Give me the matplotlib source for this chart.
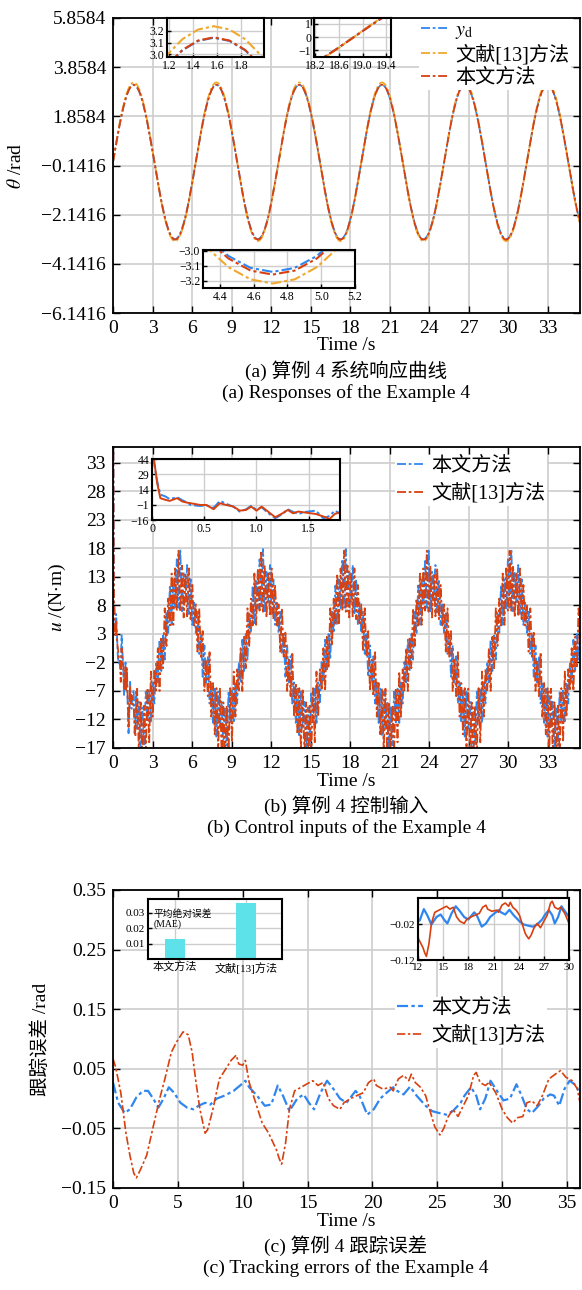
import numpy as np
import matplotlib
matplotlib.use('Agg')
import matplotlib.pyplot as plt
from matplotlib.ticker import FixedLocator, FuncFormatter

plt.rcParams['font.family'] = ['Liberation Serif', 'Noto Sans CJK SC']
plt.rcParams['mathtext.fontset'] = 'stix'
plt.rcParams['axes.unicode_minus'] = True

# ---------------- data ----------------
# (a) angle responses, one period (2*pi s) sampled every 7.5 degrees
theta_d_cycle = [0, 0.410, 0.813, 1.202, 1.571, 1.913, 2.221, 2.493, 2.721, 2.902, 3.035, 3.115,
                 3.142, 3.115, 3.035, 2.902, 2.721, 2.493, 2.221, 1.913, 1.571, 1.202, 0.813, 0.410,
                 0, -0.410, -0.813, -1.202, -1.571, -1.913, -2.221, -2.493, -2.721, -2.902, -3.035, -3.115,
                 -3.142, -3.115, -3.035, -2.902, -2.721, -2.493, -2.221, -1.913, -1.571, -1.202, -0.813, -0.410]
theta_ref_cycle = [0, 0.423, 0.839, 1.240, 1.620, 1.973, 2.291, 2.571, 2.806, 2.993, 3.130, 3.212,
                   3.240, 3.212, 3.130, 2.993, 2.806, 2.571, 2.291, 1.973, 1.620, 1.240, 0.839, 0.423,
                   0, -0.420, -0.833, -1.232, -1.610, -1.960, -2.277, -2.555, -2.789, -2.975, -3.110, -3.192,
                   -3.220, -3.192, -3.110, -2.975, -2.789, -2.555, -2.277, -1.960, -1.610, -1.232, -0.833, -0.420]
theta_ours_cycle = [0, 0.410, 0.814, 1.204, 1.573, 1.915, 2.224, 2.495, 2.724, 2.906, 3.038, 3.118,
                    3.145, 3.118, 3.038, 2.906, 2.724, 2.495, 2.224, 1.915, 1.573, 1.204, 0.814, 0.410,
                    0, -0.412, -0.818, -1.209, -1.580, -1.924, -2.234, -2.507, -2.737, -2.920, -3.052, -3.133,
                    -3.160, -3.133, -3.052, -2.920, -2.737, -2.507, -2.234, -1.924, -1.580, -1.209, -0.818, -0.412]
theta_ticks = [-6.1416, -4.1416, -2.1416, -0.1416, 1.8584, 3.8584, 5.8584]

# (b) control input: start-up transient, then one period of the chattering input
u_start_t = [0, 0.02, 0.05, 0.08, 0.13, 0.17, 0.24, 0.29, 0.33, 0.37, 0.46, 0.52, 0.59, 0.65, 0.71,
             0.78, 0.84, 0.9, 0.95, 1.0, 1.05, 1.11, 1.18, 1.25, 1.3, 1.35, 1.4, 1.47, 1.57, 1.64,
             1.7, 1.75, 1.79]
u_start_ref = [44, 43, 20, 5.5, 3.8, 2.8, 5.5, 2.2, 1.2, 0.5, -1.2, -1.2, -5.4, 0.5, -1.2, -2.8,
               -6.8, -6.1, -2.8, -6.8, -2.8, -7.7, -13.3, -9.4, -6.1, -9.4, -7.7, -8.7, -10.1, -12.5,
               -15, -10.1, -8.7]
u_start_ours = [44, 40, 22, 9, 7.1, 4.5, 6.5, 3.5, 1.5, -1.2, -2.2, -1.5, -4, 2.8, 0, -3, -7.7,
                -5.5, -2, -6, -3.5, -9, -14.4, -10, -5.4, -8, -10.1, -8, -6.8, -14.4, -12, -6.8, -9]
u_ref_cycle = [8.2, -0.1, 7.5, -1.0, 3.5, -7.0, -1.5, -7.9, -0.2, -11.5, -5.6, -14.6, -6.5, -17.5,
               -6.6, -17.9, -9.0, -18.5, -9.6, -18.0, -6.5, -16.0, -3.6, -11.5, -3.2, -6.9, 0.5, -7.0,
               2.5, -3.0, 7.5, 0.9, 9.2, 4.5, 13.6, 4.6, 14.5, 7.1, 17.6, 6.9, 15.0, 5.9, 13.6, 6.1,
               14.5, 5.6, 11.6, 4.5]
u_ours_cycle = [3.2, 6.9, -0.5, 3.0, -4.5, 1.0, -5.5, -0.9, -9.2, -5.5, -12.6, -6.6, -15.0, -7.1,
                -13.6, -8.9, -17.0, -9.9, -16.5, -7.1, -12.5, -6.6, -12.6, -5.5, -9.2, -1.9, -5.5, 2.0,
                -3.5, 3.0, -1.5, 6.9, 3.2, 11.5, 4.6, 12.6, 7.5, 16.1, 7.6, 17.9, 7.0, 13.9, 8.6, 15.1,
                6.5, 12.6, 4.6, 8.5]

# (c) tracking errors
err_ref_t = [0, 0.2, 0.6, 1.0, 1.3, 1.6, 1.8, 2.1, 2.4, 2.6, 3.1, 3.6, 4.0, 4.5, 4.9, 5.4, 5.8, 6.1,
             6.4, 6.7, 7.1, 7.3, 7.7, 8.2, 8.7, 9.1, 9.5, 9.7, 10.0, 10.2, 10.5, 11.0, 11.5, 12.0,
             12.6, 12.8, 13.0, 13.3, 13.6, 14.0, 14.5, 14.9, 15.4, 15.8, 16.2, 16.6, 17.0, 17.5,
             17.8, 18.3, 18.8, 19.3, 19.7, 20.1, 20.3, 20.8, 21.4, 21.6, 22.0, 22.4, 22.8, 23.0,
             23.3, 23.7, 24.1, 24.4, 24.8, 25.2, 25.5, 25.8, 26.2, 26.6, 27.0, 27.4, 27.8, 28.0,
             28.3, 28.7, 29.0, 29.5, 30.0, 30.4, 30.8, 31.2, 31.6, 31.9, 32.3, 32.7, 33.1, 33.6,
             34.1, 34.5, 34.9, 35.4, 35.8, 36.0]
err_ref = [0.067, 0.053, 0.010, -0.058, -0.095, -0.125, -0.133, -0.120, -0.105, -0.095,
           -0.047, 0.000, 0.033, 0.078, 0.095, 0.112, 0.107, 0.078, 0.027, -0.018,
           -0.058, -0.052, -0.018, 0.033, 0.050, 0.064, 0.073, 0.058, 0.056, 0.064,
           0.027, -0.007, -0.041, -0.058, -0.086, -0.100, -0.110, -0.075, -0.018, 0.013,
           0.019, 0.024, 0.030, 0.022, 0.027, 0.000, -0.012, -0.018, -0.007, 0.000,
           0.005, 0.010, 0.027, 0.033, 0.022, 0.016, 0.019, 0.013, 0.033, 0.039,
           0.030, 0.041, 0.027, 0.019, 0.005, -0.018, -0.047, -0.061, -0.050, -0.032,
           -0.018, -0.030, -0.012, 0.005, 0.039, 0.044, 0.027, 0.022, 0.027, 0.010,
           -0.018, -0.032, -0.041, -0.032, -0.030, -0.007, -0.004, -0.012, 0.005, 0.033,
           0.041, 0.047, 0.036, 0.030, 0.016, -0.007]
err_ours_t = [0, 0.4, 0.9, 1.3, 1.8, 2.3, 2.7, 3.1, 3.5, 3.9, 4.3, 4.7, 5.2, 5.7, 6.2, 6.6, 7.1,
              7.5, 8.0, 8.6, 9.3, 9.8, 10.2, 10.5, 11.1, 11.7, 12.2, 12.7, 13.1, 13.6, 14.2, 14.7,
              15.1, 15.5, 16.0, 16.5, 17.0, 17.5, 18.0, 18.7, 19.0, 19.6, 20.1, 20.6, 21.1, 21.6,
              21.9, 22.4, 22.9, 23.4, 24.1, 24.6, 25.1, 25.7, 26.2, 26.8, 27.1, 27.6, 28.0, 28.3,
              28.7, 29.1, 29.6, 30.1, 30.6, 31.1, 31.5, 31.9, 32.3, 32.8, 33.2, 33.7, 34.0, 34.4,
              34.8, 35.2, 35.7, 36.0]
err_ours = [0.027, -0.007, -0.024, -0.018, 0.002, 0.013, 0.013, 0.000, -0.015, 0.000,
            0.019, 0.010, -0.007, -0.015, -0.018, -0.012, -0.007, -0.010, 0.000, 0.005,
            0.013, 0.022, 0.030, 0.019, 0.005, -0.012, -0.010, 0.022, 0.005, -0.021,
            0.000, 0.007, -0.007, -0.018, 0.010, 0.030, 0.016, 0.000, -0.007, 0.013,
            0.005, -0.027, -0.018, 0.000, 0.010, 0.019, 0.013, 0.007, 0.020, 0.005,
            -0.012, -0.021, -0.024, -0.027, -0.021, -0.007, 0.005, 0.019, 0.005, -0.018,
            0.000, 0.030, 0.013, -0.003, 0.000, 0.024, 0.005, -0.018, -0.024, -0.012,
            0.000, 0.007, 0.005, -0.012, 0.016, 0.030, 0.022, 0.007]
mae_labels = ['本文方法', '文献[13]方法']
mae_values = [0.013, 0.0365]

# ---------------- styling ----------------
C_BLUE = '#2f86f0'
C_ORANGE = '#f0a82c'
C_RED = '#d8400f'
C_BAR = '#5de2ea'
GRID = '#cdcdcd'
DASHDOT = (0, (5, 1.5, 1.5, 1.5))

W, H = 582, 1290
fig = plt.figure(figsize=(W / 100, H / 100), dpi=100)


def box(x0, y0, x1, y1):
    """Pixel box (top-left origin) to a figure-fraction rectangle."""
    return [x0 / W, 1 - y1 / H, (x1 - x0) / W, (y1 - y0) / H]


def minus(fmt):
    return FuncFormatter(lambda v, p: (fmt % v).replace('-', '\u2212'))


def style(ax, fs=14, pad=5, length=5, lw=1.3):
    ax.tick_params(direction='in', top=True, right=True, labelsize=fs,
                   length=length, width=1, pad=pad)
    for s in ax.spines.values():
        s.set_linewidth(lw)
    ax.grid(True, color=GRID, lw=1.2)
    ax.set_axisbelow(True)


def legend(ax, x, y, spacing):
    lg = ax.legend(loc='upper left', bbox_to_anchor=(x, y), frameon=True,
                   facecolor='white', edgecolor='none', framealpha=1, fancybox=False,
                   fontsize=14.5, handlelength=1.3, handletextpad=0.4, labelspacing=spacing,
                   borderpad=0.1, borderaxespad=0)
    lg.set_zorder(5)
    return lg


def caption(yc, lines, xlabel='Time /s'):
    fig.text(346 / W, 1 - yc[0] / H, xlabel, ha='center', va='center', fontsize=14)
    fig.text(346 / W, 1 - yc[1] / H, lines[0], ha='center', va='center', fontsize=14)
    fig.text(346 / W, 1 - yc[2] / H, lines[1], ha='center', va='center', fontsize=14)


# ---------------- (a) responses ----------------
n1 = 272
dt1 = 2 * np.pi / len(theta_d_cycle)
t1 = np.arange(n1) * dt1
yd = np.tile(theta_d_cycle, 6)[:n1]
yref = np.tile(theta_ref_cycle, 6)[:n1]
yours = np.tile(theta_ours_cycle, 6)[:n1]

ax1 = fig.add_axes(box(113, 18, 580, 313))
style(ax1)
ax1.plot(t1, yd, color=C_BLUE, ls=DASHDOT, lw=1.3, label=r'$y_{\mathrm{d}}$')
ax1.plot(t1, yref, color=C_ORANGE, ls=DASHDOT, lw=1.3, label='文献[13]方法')
ax1.plot(t1, yours, color=C_RED, ls=DASHDOT, lw=1.3, label='本文方法')
ax1.set_xlim(0, 35.45)
ax1.set_ylim(theta_ticks[0], theta_ticks[-1])
ax1.set_xticks(np.arange(0, 34, 3))
ax1.yaxis.set_major_locator(FixedLocator(theta_ticks))
ax1.yaxis.set_major_formatter(minus('%.4f'))
ax1.set_ylabel(r'$\theta$ /rad', fontsize=14)
ax1.yaxis.set_label_coords(-0.188, 0.5)
legend(ax1, 0.655, 0.998, 0.2)
caption((346, 371, 393), ['(a) 算例 4 系统响应曲线', '(a) Responses of the Example 4'])


def inset(rect, xlim, ylim, xticks, yticks, xf, yf, fs=8.5):
    a = fig.add_axes(box(*rect))
    a.set_facecolor('white')
    a.tick_params(direction='in', top=False, right=False, labelsize=fs,
                  length=3, width=1, pad=2)
    for s in a.spines.values():
        s.set_linewidth(1.5)
    a.grid(True, color=GRID, lw=1.0)
    a.set_axisbelow(True)
    a.set_xlim(*xlim)
    a.set_ylim(*ylim)
    a.set_xticks(xticks)
    a.set_yticks(yticks)
    a.xaxis.set_major_formatter(minus(xf))
    a.yaxis.set_major_formatter(minus(yf))
    a.set_zorder(6)
    return a


for rect, xl, yl, xt, yt, xf, yf in [
        ((167, 18, 264, 57), (1.18, 1.99), (2.978, 3.31), [1.2, 1.4, 1.6, 1.8], [3.0, 3.1, 3.2], '%.1f', '%.1f'),
        ((314, 18, 391, 57), (18.18, 19.48), (-1.5, 1.45), [18.2, 18.6, 19.0, 19.4], [-1, 0, 1], '%.1f', '%g'),
        ((203, 250, 355, 288), (4.3, 5.2), (-3.25, -2.995), [4.4, 4.6, 4.8, 5.0, 5.2], [-3.2, -3.1, -3.0], '%.1f', '%.1f')]:
    a = inset(rect, xl, yl, xt, yt, xf, yf)
    a.plot(t1, yd, color=C_BLUE, ls=DASHDOT, lw=1.5)
    a.plot(t1, yref, color=C_ORANGE, ls=DASHDOT, lw=1.5)
    a.plot(t1, yours, color=C_RED, ls=DASHDOT, lw=1.5)

# ---------------- (b) control input ----------------
n2 = 272
dt2 = 2 * np.pi / len(u_ours_cycle)
tc = np.arange(n2) * dt2
keep = tc > u_start_t[-1]
t2 = np.concatenate([u_start_t, tc[keep]])
u_ours = np.concatenate([u_start_ours, np.tile(u_ours_cycle, 6)[:n2][keep]])
u_ref = np.concatenate([u_start_ref, np.tile(u_ref_cycle, 6)[:n2][keep]])

ax2 = fig.add_axes(box(113, 447, 580, 748))
style(ax2)
ax2.plot(t2, u_ours, color=C_BLUE, ls=DASHDOT, lw=1.3, label='本文方法')
ax2.plot(t2, u_ref, color=C_RED, ls=DASHDOT, lw=1.3, label='文献[13]方法')
ax2.set_xlim(0, 35.45)
ax2.set_ylim(-17, 35.8)
ax2.set_xticks(np.arange(0, 34, 3))
ax2.set_yticks(np.arange(-17, 34, 5))
ax2.yaxis.set_major_formatter(minus('%d'))
ax2.set_ylabel(r'$u$ /(N$\cdot$m)', fontsize=14)
ax2.yaxis.set_label_coords(-0.096, 0.5)
legend(ax2, 0.604, 0.975, 0.38)
caption((781, 806, 828), ['(b) 算例 4 控制输入', '(b) Control inputs of the Example 4'])

a2 = inset((152, 459, 340, 520), (0, 1.8), (-16, 44), [0, 0.5, 1.0, 1.5], [-16, -1, 14, 29, 44], '%g', '%d')
a2.xaxis.set_major_formatter(FuncFormatter(lambda v, p: '0' if v == 0 else '%.1f' % v))
a2.plot(t2, u_ours, color=C_BLUE, ls=DASHDOT, lw=1.4)
a2.plot(t2, u_ref, color=C_RED, ls='-', lw=1.4)

# ---------------- (c) tracking errors ----------------
ax3 = fig.add_axes(box(113, 890, 580, 1188))
style(ax3)
ax3.plot(err_ours_t, err_ours, color=C_BLUE, ls=DASHDOT, lw=1.6, label='本文方法')
ax3.plot(err_ref_t, err_ref, color=C_RED, ls=DASHDOT, lw=1.2, label='文献[13]方法')
ax3.set_xlim(0, 36)
ax3.set_ylim(-0.15, 0.35)
ax3.set_xticks(np.arange(0, 36, 5))
ax3.set_yticks([-0.15, -0.05, 0.05, 0.15, 0.25, 0.35])
ax3.yaxis.set_major_formatter(minus('%.2f'))
ax3.set_ylabel('跟踪误差 /rad', fontsize=14)
ax3.yaxis.set_label_coords(-0.135, 0.5)
legend(ax3, 0.604, 0.64, 0.33)
caption((1221, 1246, 1268), ['(c) 算例 4 跟踪误差', '(c) Tracking errors of the Example 4'])

ab = inset((148, 899, 282, 959), (-0.376, 1.503), (0, 0.039), [0, 1], [0.01, 0.02, 0.03], '%g', '%.2f', fs=8)
ab.bar([0, 1], mae_values, width=0.28, color=C_BAR, zorder=2)
ab.set_xticklabels(mae_labels, fontsize=8)
ab.text(0.04, 0.82, '平均绝对误差\n(MAE)', transform=ab.transAxes, fontsize=7,
        ha='left', va='top', linespacing=1.0, zorder=3)

ae = inset((418, 898, 569, 960), (12, 30), (-0.12, 0.053), np.arange(12, 31, 3), [-0.12, -0.02], '%d', '%.2f', fs=8)
ae.plot(err_ours_t, err_ours, color=C_BLUE, ls='-', lw=1.6)
ae.plot(err_ref_t, err_ref, color=C_RED, ls='-', lw=1.2)

fig.savefig('out.png', dpi=100)
